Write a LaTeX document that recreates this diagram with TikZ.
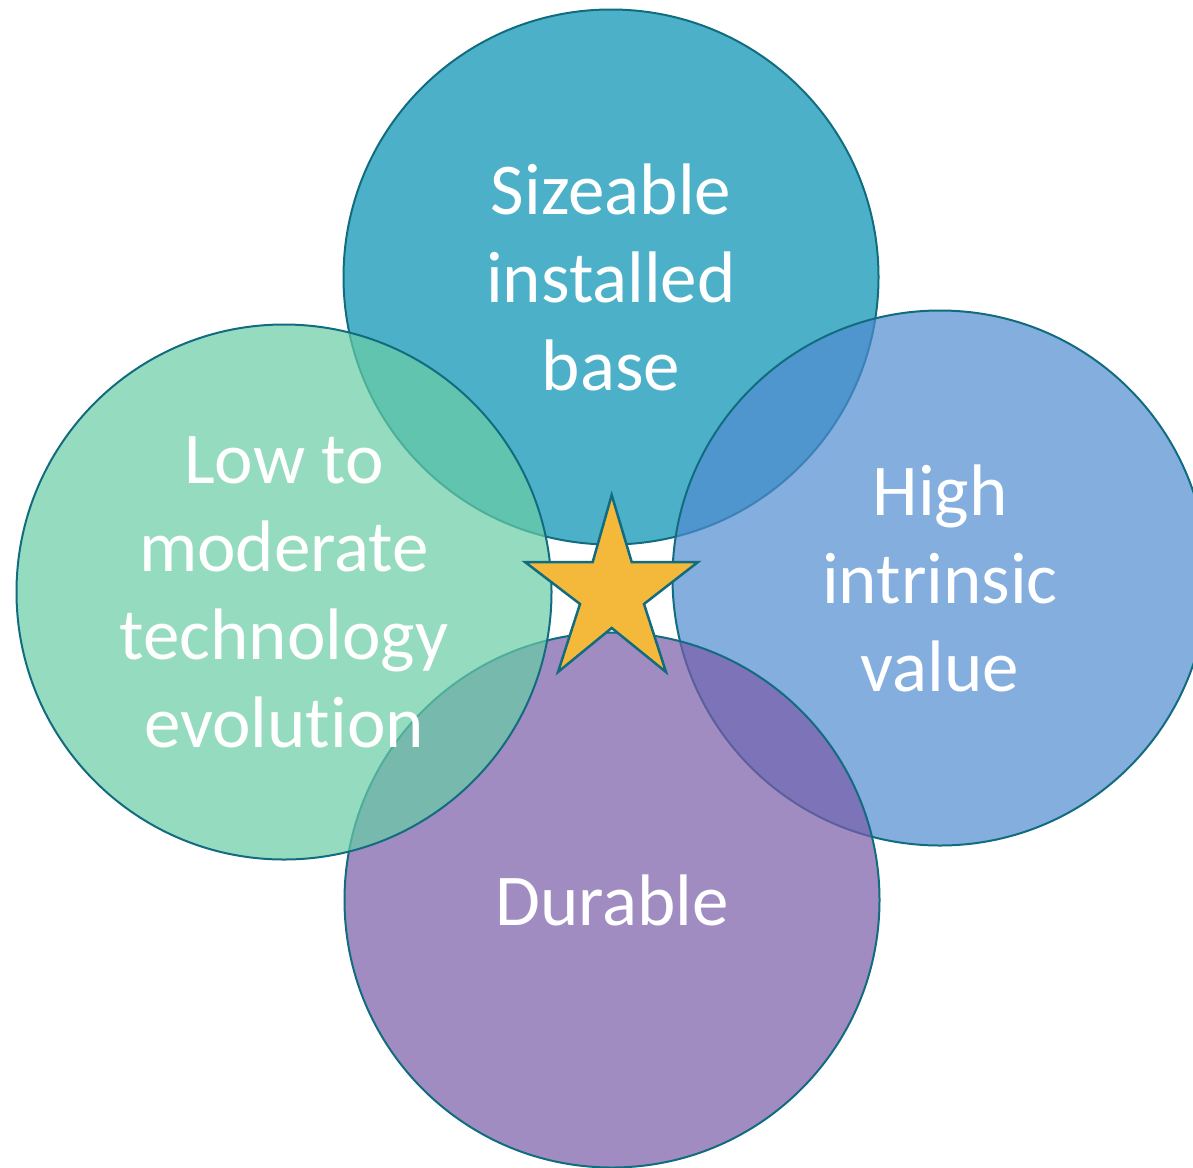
\documentclass[tikz,border=0pt]{standalone}
\usepackage{fontspec}
\setmainfont{Carlito}[Ligatures=NoCommon]
\definecolor{edgec}{RGB}{18,108,128}
\definecolor{ctop}{RGB}{0,144,176}
\definecolor{cleft}{RGB}{104,204,165}
\definecolor{cright}{RGB}{78,139,208}
\definecolor{cbottom}{RGB}{121,91,168}
\definecolor{starc}{RGB}{244,184,59}
\begin{document}
\begin{tikzpicture}[x=1pt,y=-1pt,
  bubble/.style={circle, draw=edgec, line width=2pt, fill opacity=0.7, minimum size=535pt, inner sep=0pt},
  lbl/.style={text=white, align=center, font=\fontsize{73pt}{88pt}\selectfont, inner sep=0pt}]
\useasboundingbox (0,0) rectangle (1193,1167);
\begin{scope}
\clip (0,0) rectangle (1193,1167);
\node[bubble, fill=ctop] (top) at (611,277) {};
\node[bubble, fill=cright] (right) at (940,578) {};
\node[bubble, fill=cbottom] (bottom) at (612,900) {};
\node[bubble, fill=cleft] (left) at (284,592) {};
\end{scope}
\node[lbl] (ttop) at (top.center) {Sizeable\\installed\\base};
\node[lbl] (tleft) at (left.center) {Low to\\moderate\\technology\\evolution};
\node[lbl] (tright) at (right.center) {High\\intrinsic\\value};
\node[lbl] (tbottom) at (bottom.center) {Durable};
\draw[draw=edgec, fill=starc, line width=2.5pt, line join=miter]
  (611.7,495) -- (631.7,562) -- (698,562) -- (644,604) -- (666,672)
  -- (611.7,628) -- (558,672) -- (580,604) -- (525,562) -- (592.7,562) -- cycle;
\end{tikzpicture}
\end{document}
